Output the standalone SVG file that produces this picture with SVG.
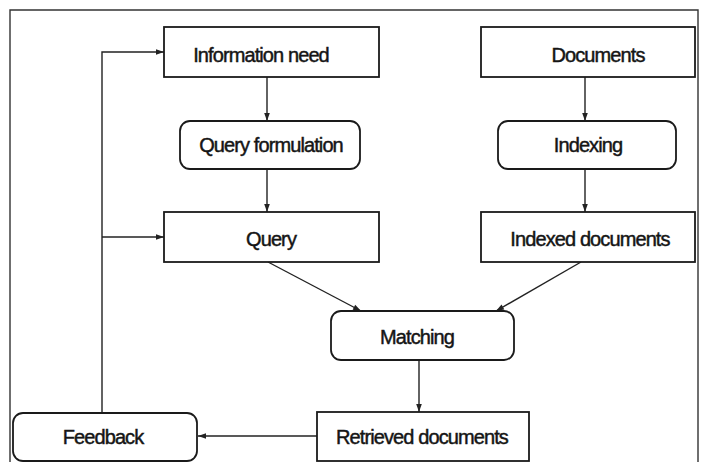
<svg xmlns="http://www.w3.org/2000/svg" width="709" height="462" viewBox="0 0 709 462">
  <style>
    .box { fill: #ffffff; stroke: #1a1a1a; stroke-width: 1.8; }
    .lbl { font-family: "Liberation Sans", Arial, sans-serif; font-size: 20px; letter-spacing: -0.9px; fill: #151515; stroke: #151515; stroke-width: 0.45; text-anchor: middle; dominant-baseline: central; }
    .wire { fill: none; stroke: #222; stroke-width: 1.4; }
  </style>
  <defs>
    <marker id="arrow" viewBox="0 0 10 10" refX="10" refY="5" markerWidth="10" markerHeight="8" markerUnits="userSpaceOnUse" orient="auto">
      <path d="M0,1.5 L10,5 L0,8.5 Z" fill="#222"/>
    </marker>
  </defs>

  <rect x="0" y="0" width="709" height="462" fill="#ffffff"/>
  <!-- outer frame -->
  <path d="M10,462 V10 H698 V462" fill="none" stroke="#333" stroke-width="1.4"/>

  <g id="connectors">
    <line class="wire" x1="267" y1="77" x2="267" y2="121" marker-end="url(#arrow)"/>
    <line class="wire" x1="585" y1="77" x2="585" y2="121" marker-end="url(#arrow)"/>
    <line class="wire" x1="267" y1="169" x2="267" y2="212" marker-end="url(#arrow)"/>
    <line class="wire" x1="585" y1="169" x2="585" y2="212" marker-end="url(#arrow)"/>
    <line class="wire" x1="268" y1="262" x2="361" y2="311" marker-end="url(#arrow)"/>
    <line class="wire" x1="581" y1="262" x2="496" y2="311" marker-end="url(#arrow)"/>
    <line class="wire" x1="419" y1="360" x2="419" y2="412" marker-end="url(#arrow)"/>
    <line class="wire" x1="317" y1="436" x2="198" y2="436" marker-end="url(#arrow)"/>
    <path class="wire" d="M102,413 V52 H164" marker-end="url(#arrow)"/>
    <line class="wire" x1="102" y1="237" x2="164" y2="237" marker-end="url(#arrow)"/>
  </g>

  <g id="information-need">
    <rect class="box" x="164" y="27" width="215" height="50"/>
    <text class="lbl" x="261" y="55">Information need</text>
  </g>
  <g id="documents">
    <rect class="box" x="481" y="27" width="214" height="50"/>
    <text class="lbl" x="598" y="55">Documents</text>
  </g>
  <g id="query-formulation">
    <rect class="box" x="180" y="121" width="180" height="48" rx="10"/>
    <text class="lbl" x="271" y="145">Query formulation</text>
  </g>
  <g id="indexing">
    <rect class="box" x="498" y="121" width="178" height="48" rx="10"/>
    <text class="lbl" x="588" y="145">Indexing</text>
  </g>
  <g id="query">
    <rect class="box" x="164" y="212" width="215" height="50"/>
    <text class="lbl" x="271" y="239">Query</text>
  </g>
  <g id="indexed-documents">
    <rect class="box" x="481" y="212" width="214" height="50"/>
    <text class="lbl" x="590" y="239">Indexed documents</text>
  </g>
  <g id="matching">
    <rect class="box" x="331" y="311" width="183" height="49" rx="10"/>
    <text class="lbl" x="417" y="337">Matching</text>
  </g>
  <g id="retrieved-documents">
    <rect class="box" x="317" y="412" width="212" height="49"/>
    <text class="lbl" x="422" y="437">Retrieved documents</text>
  </g>
  <g id="feedback">
    <rect class="box" x="13" y="413" width="184" height="48" rx="10"/>
    <text class="lbl" x="103" y="437">Feedback</text>
  </g>
</svg>
